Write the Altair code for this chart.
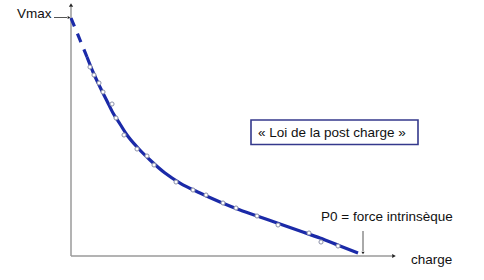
import altair as alt
import pandas as pd

# Fitted curve (charge, Vmax); P0 = 100, Vmax = 100
curve_charge = [0, 3.14, 5.57, 7.67, 10.10, 12.54, 14.63, 17.07, 19.51, 23.34, 27.53,
                32.75, 37.98, 44.95, 51.92, 58.89, 65.85, 72.82, 79.79, 86.76, 93.73, 100]
curve_v = [100, 90.76, 83.61, 77.31, 71.01, 65.13, 60.08, 55.46, 50.84, 45.38, 40.34,
           34.87, 30.67, 26.47, 22.69, 19.33, 16.39, 13.45, 10.50, 7.56, 4.20, 1.26]
dash_count = 3  # first points are the dashed extrapolation

# Measured points
meas_charge = [6.62, 8.01, 9.76, 11.15, 14.29, 15.68, 18.47, 23.00, 26.48, 28.92, 36.59,
               42.51, 47.04, 52.96, 57.49, 64.81, 72.13, 82.93, 87.11, 93.03]
meas_v = [79.41, 76.05, 72.69, 68.91, 63.87, 57.98, 50.84, 44.96, 42.02, 38.24, 31.09,
          27.73, 25.63, 22.27, 20.17, 16.81, 13.03, 9.66, 5.88, 4.20]

label_vmax = "Vmax"
label_charge = "charge"
label_p0 = "P0 = force intrinsèque"
label_box = "« Loi de la post charge »"

FONT = "Liberation Sans"
BLUE = "#1b2aa8"

xs = alt.Scale(domain=[-24.74, 143.9], nice=False, zero=False)
ys = alt.Scale(domain=[-10.08, 107.56], nice=False, zero=False)

df_dash = pd.DataFrame({"c": curve_charge[:dash_count], "v": curve_v[:dash_count]})
df_solid = pd.DataFrame({"c": curve_charge[dash_count - 1:], "v": curve_v[dash_count - 1:]})
df_meas = pd.DataFrame({"c": meas_charge, "v": meas_v})
one = pd.DataFrame({"a": [0]})

X = lambda f: alt.X(f, type="quantitative", scale=xs, axis=None)
Y = lambda f: alt.Y(f, type="quantitative", scale=ys, axis=None)

# axes
y_axis = alt.Chart(one).mark_rule(color="#9a9a9a", strokeWidth=1.5).encode(
    x=alt.value(71), y=alt.value(256), y2=alt.value(7))
x_axis = alt.Chart(one).mark_rule(color="#9a9a9a", strokeWidth=1.5).encode(
    x=alt.value(71), x2=alt.value(392), y=alt.value(256))
y_head = alt.Chart(one).mark_point(shape="triangle-up", filled=True, color="#222", size=18, opacity=1).encode(
    x=alt.value(71), y=alt.value(5))
x_head = alt.Chart(one).mark_point(shape="triangle-right", filled=True, color="#222", size=18, opacity=1).encode(
    x=alt.value(394), y=alt.value(256))

# curve
dash_line = alt.Chart(df_dash).mark_line(color=BLUE, strokeWidth=3.2, strokeDash=[9, 8]).encode(
    x=X("c"), y=Y("v"), order="c:Q")
solid_line = alt.Chart(df_solid).mark_line(color=BLUE, strokeWidth=3.2, interpolate="monotone").encode(
    x=X("c"), y=Y("v"), order="c:Q")
pts = alt.Chart(df_meas).mark_point(shape="circle", filled=True, fill="white", stroke="#8a8fa8",
                                    strokeWidth=1, size=17, opacity=1).encode(x=X("c"), y=Y("v"))

# Vmax label + arrow
vmax_txt = alt.Chart(one).mark_text(text=label_vmax, font=FONT, fontSize=13.5, align="left",
                                    baseline="middle", color="#111").encode(x=alt.value(17), y=alt.value(14))
vmax_line = alt.Chart(one).mark_rule(color="#555", strokeWidth=1).encode(
    x=alt.value(54), x2=alt.value(67), y=alt.value(17.5))
vmax_head = alt.Chart(one).mark_point(shape="triangle-right", filled=True, color="#222", size=10, opacity=1).encode(
    x=alt.value(69), y=alt.value(17.5))

# P0 label + arrow
p0_txt = alt.Chart(one).mark_text(text=label_p0, font=FONT, fontSize=13.5, align="left",
                                  baseline="middle", color="#111").encode(x=alt.value(321), y=alt.value(217))
p0_line = alt.Chart(one).mark_rule(color="#555", strokeWidth=1).encode(
    x=alt.value(363), y=alt.value(231), y2=alt.value(251))
p0_head = alt.Chart(one).mark_point(shape="triangle-down", filled=True, color="#222", size=10, opacity=1).encode(
    x=alt.value(363), y=alt.value(253))

charge_txt = alt.Chart(one).mark_text(text=label_charge, font=FONT, fontSize=13.5, align="left",
                                      baseline="middle", color="#111").encode(x=alt.value(411), y=alt.value(260))

# box
box = alt.Chart(one).mark_rect(fill="white", stroke="#34398c", strokeWidth=1.6).encode(
    x=alt.value(251), x2=alt.value(418), y=alt.value(120), y2=alt.value(144.5))
box_txt = alt.Chart(one).mark_text(text=label_box, font=FONT, fontSize=13.5, align="left",
                                   baseline="middle", color="#111").encode(x=alt.value(258), y=alt.value(132.5))

chart = alt.layer(
    y_axis, x_axis, y_head, x_head,
    dash_line, solid_line, pts,
    vmax_line, vmax_head, vmax_txt,
    p0_line, p0_head, p0_txt, charge_txt,
    box, box_txt,
).properties(
    width=484, height=280, autosize=alt.AutoSizeParams(type="none"), padding=0, background="white"
).configure_view(stroke=None)

chart.save("out.html", embed_options={"renderer": "svg", "actions": False})
